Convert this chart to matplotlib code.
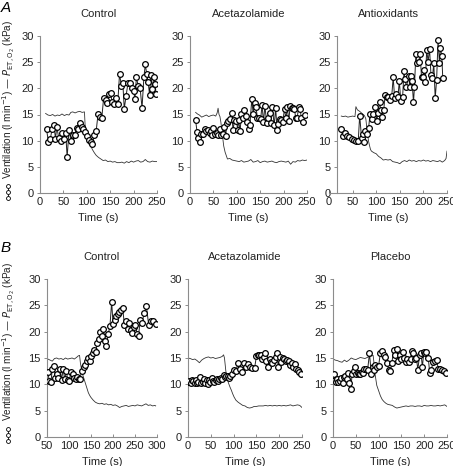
#Figura de ventilacion y PETO2 frente al tiempo, 6 paneles (A arriba, B abajo)
import numpy as np
import matplotlib
matplotlib.use('Agg')
import matplotlib.pyplot as plt
from matplotlib.lines import Line2D

plt.rcParams['font.family'] = ['Liberation Sans', 'DejaVu Sans']

#Panel A - Control
tA1 = [14,18,22,26,30,33,36,40,44,48,52,55,58,62,66,70,74,78,82,86,89,92,96,100,104,108,112,116,120,124,128,132,136,140,144,148,151,154,158,162,166,170,174,177,180,184,188,192,196,200,203,206,210,214,218,222,225,228,231,234,237,240,243,246,248]
vA1 = [12.2,9.7,10.3,12.3,12.9,10.4,12.6,10.5,10.0,11.5,10.4,11.4,6.8,12.1,10.0,11.0,11.1,12.5,12.3,13.3,12.6,12.2,11.7,10.8,10.2,9.7,9.3,11.1,11.8,15.1,14.6,14.3,18.2,17.8,17.2,18.9,19.2,17.4,17.0,18.1,17.0,22.8,20.4,21.0,16.1,18.6,21.0,21.0,20.0,19.5,17.9,22.2,20.4,20.0,16.2,22.1,24.6,22.7,21.3,18.8,22.6,19.9,22.1,20.8,19.0]
tA1p = [12,17,22,27,32,37,42,47,52,57,62,66,70,75,80,85,90,95,97,100,104,108,112,116,120,125,130,135,140,145,150,155,160,165,170,175,180,185,190,195,200,205,210,215,220,225,230,235,240,245,250]
pA1 = [15.2,14.9,14.8,15.0,14.7,14.9,14.8,15.1,14.8,15.0,14.9,15.4,15.5,15.3,15.5,15.6,15.4,15.5,11.8,10.9,10.0,9.1,8.3,7.7,7.2,6.8,6.5,6.2,6.3,6.0,6.1,5.9,6.0,5.8,5.8,5.9,5.7,6.0,5.8,6.1,5.9,6.1,6.2,5.9,6.0,6.4,6.0,5.9,6.1,6.0,6.0]

#Panel A - Acetazolamide
tA2 = [12,15,18,21,24,28,31,35,38,42,45,48,50,54,57,60,64,67,70,73,76,79,82,86,89,92,95,99,102,104,107,110,113,116,119,122,126,128,132,135,138,141,144,147,151,154,157,160,164,166,170,173,176,180,183,186,189,192,195,198,202,205,208,211,214,217,220,223,226,229,232,235,238,241,245]
vA2 = [13.9,11.7,10.5,9.8,11.3,11.2,12.2,11.8,12.1,11.4,11.9,11.0,12.5,11.3,11.4,11.1,12.2,11.1,11.2,12.6,10.9,13.3,13.7,14.2,15.2,12.0,13.9,13.8,12.1,14.0,11.8,15.1,14.4,15.9,14.7,13.5,12.3,13.0,17.9,15.1,17.2,16.4,14.4,14.4,14.1,16.9,13.5,16.6,13.4,14.4,15.2,13.4,16.4,12.9,16.3,12.1,13.2,14.1,14.0,13.6,16.0,14.3,16.4,13.7,16.7,16.3,16.3,16.1,14.3,14.3,16.4,16.1,14.4,13.6,14.9]
tA2p = [12,16,20,25,30,35,40,45,50,55,58,60,62,64,66,68,70,72,75,80,85,90,95,100,105,110,115,120,125,130,135,140,145,150,155,160,165,170,175,180,185,190,195,200,205,210,215,220,225,230,235,240,245,250]
pA2 = [15.4,15.1,14.9,14.5,14.7,14.9,14.6,14.8,14.9,14.7,15.3,16.2,15.0,14.6,13.5,12.0,10.5,9.0,7.8,6.5,6.6,6.3,6.2,6.1,6.0,6.2,5.9,6.0,6.1,6.4,5.9,6.0,6.2,5.8,6.0,6.1,5.9,6.0,6.1,5.9,5.8,6.0,6.1,6.0,5.9,6.1,5.5,6.0,5.9,6.2,6.1,6.3,6.2,6.3]

#Panel A - Antioxidants
tA3 = [26,29,34,39,43,48,52,57,62,65,69,71,74,76,80,84,87,91,94,98,101,104,107,110,113,116,119,123,126,130,133,136,139,143,146,149,152,156,159,161,164,169,171,174,176,179,181,184,187,190,193,196,199,201,204,207,210,213,216,219,222,225,228,231,234,236,239,241]
vA3 = [12.2,10.9,11.4,10.8,10.7,10.3,10.2,10.0,10.0,14.8,10.5,11.3,9.7,11.8,11.2,12.5,15.1,14.2,15.1,16.4,13.8,15.3,17.3,15.9,14.6,15.9,18.8,18.4,18.3,17.8,18.6,22.1,18.2,18.9,18.4,21.4,17.6,18.4,23.4,21.7,20.3,22.4,20.2,22.4,21.4,17.3,20.2,26.5,24.8,25.1,26.5,22.2,22.2,23.5,21.3,27.3,25.1,27.6,22.6,21.9,24.8,18.1,21.6,29.2,24.8,27.8,26.2,22.0]
tA3p = [26,30,35,40,45,50,55,57,60,65,70,75,78,80,82,84,86,88,90,95,100,105,110,115,120,125,130,135,140,145,150,155,160,165,170,175,180,185,190,195,200,205,210,215,220,225,230,235,240,245,248,250]
pA3 = [14.7,14.6,14.7,14.5,14.6,14.7,14.6,16.5,15.9,15.6,15.2,14.8,14.2,12.5,11.0,9.8,9.0,8.3,8.0,7.7,7.5,7.0,6.7,6.3,6.4,6.3,6.4,6.0,5.9,5.8,5.6,6.0,6.2,6.0,6.3,6.1,6.2,6.0,6.2,6.1,6.3,6.1,6.2,6.0,6.2,6.1,6.0,6.2,5.9,6.2,6.6,8.0]

#Panel B - Control
tB1 = [52,55,59,62,66,69,73,76,80,83,87,90,94,97,101,104,108,111,115,118,122,125,129,133,136,140,143,147,150,154,157,161,164,168,171,175,178,182,185,189,193,197,200,204,207,211,214,218,222,226,229,233,236,240,244,247,251,255,258,262,266,271,276,281,286,292,297]
vB1 = [12.3,10.7,10.5,12.9,13.5,11.2,12.0,11.2,13.0,10.9,12.9,11.0,12.5,10.8,10.6,12.3,12.0,11.2,11.0,11.3,11.0,11.1,12.6,13.3,13.6,14.4,15.0,14.5,15.4,16.0,16.5,16.2,17.8,18.6,20.0,19.1,20.6,18.3,17.3,19.5,21.0,25.7,21.5,22.3,23.0,23.3,23.8,24.2,24.4,21.3,22.0,20.5,21.7,20.3,19.8,20.8,21.3,19.5,19.2,22.3,21.7,23.5,24.8,21.3,22.0,22.0,21.5]
tB1p = [52,57,62,67,72,77,82,87,92,97,102,107,112,117,121,124,126,129,132,135,138,141,144,147,150,155,160,165,170,175,180,185,190,195,200,205,210,215,220,225,230,235,240,245,250,255,260,265,270,275,280,285,290,295,297]
pB1 = [14.8,14.6,14.4,14.9,15.0,14.8,14.9,14.7,15.0,14.8,14.9,15.0,14.8,15.1,15.4,15.5,14.0,12.6,11.6,10.8,10.0,9.2,8.4,7.9,7.5,7.0,6.6,6.4,6.3,6.4,6.2,6.3,6.1,6.2,6.0,6.1,5.9,5.6,5.8,5.9,6.0,5.8,5.9,6.0,5.9,6.1,6.0,5.9,6.1,6.3,6.0,6.1,5.9,6.0,5.9]

#Panel B - Acetazolamide
tB2 = [0,3,6,9,12,15,18,20,23,26,29,32,35,38,41,43,46,49,52,55,58,61,64,66,69,72,75,78,81,84,87,89,92,96,101,105,110,114,119,123,128,132,137,141,146,150,153,156,160,163,166,169,172,176,179,182,185,189,192,195,198,202,205,208,211,215,218,221,224,228,231,234,237,241,244,248]
vB2 = [10.5,10.7,10.3,10.9,10.6,10.2,10.9,10.2,10.5,11.3,10.3,10.5,11.1,10.2,10.9,10.1,10.8,10.4,11.2,10.6,10.5,10.9,11.0,10.6,11.0,11.2,11.1,11.8,11.3,11.6,11.6,11.2,11.5,12.0,12.8,12.6,14.0,13.0,12.4,14.0,13.2,13.8,13.3,13.1,13.1,15.3,15.6,15.6,15.5,14.8,15.2,15.9,14.4,13.2,14.8,14.2,14.0,14.6,15.1,15.9,13.2,15.1,14.3,15.0,14.8,14.4,14.6,14.4,13.7,14.1,13.2,13.8,12.9,12.7,12.3,11.9]
tB2p = [0,5,10,15,20,25,30,35,40,45,50,55,60,65,70,75,78,80,83,86,89,92,95,98,101,105,110,115,120,125,130,135,140,145,150,155,160,165,170,175,180,185,190,195,200,205,210,215,220,225,230,235,240,245,250]
pB2 = [15.0,14.9,14.7,14.8,14.5,14.1,14.6,14.9,15.1,15.2,15.0,15.1,14.9,15.0,15.1,15.3,15.6,15.0,12.5,11.0,10.2,9.5,8.9,8.2,7.6,7.0,6.6,6.3,6.0,5.9,5.6,5.5,5.6,5.8,5.8,5.9,5.9,5.9,6.0,5.9,6.0,5.9,6.0,5.9,6.0,5.9,6.0,5.9,6.0,6.1,5.9,6.0,6.1,6.0,5.6]

#Panel B - Placebo
tB3 = [0,3,6,9,12,15,18,21,24,27,30,33,36,39,42,45,48,51,54,57,60,63,66,69,73,76,80,84,87,90,93,97,100,104,108,112,115,119,122,126,129,133,136,140,143,146,150,153,156,160,163,166,170,173,176,180,183,186,190,193,196,199,202,205,209,212,216,219,223,227,231,235,239,243,247]
vB3 = [11.8,12.0,10.5,11.0,10.5,10.6,11.2,10.3,11.3,11.6,11.0,12.1,10.2,9.2,11.9,12.5,13.3,12.0,12.2,12.0,12.0,12.3,12.1,12.9,13.0,12.8,15.9,11.9,13.2,12.7,13.6,13.2,13.5,16.0,16.3,15.5,15.1,14.0,12.8,12.6,14.0,16.6,15.6,16.7,14.5,15.5,14.8,16.2,15.0,14.3,14.9,14.2,14.9,16.4,15.9,14.8,15.0,12.8,15.6,16.0,13.2,16.1,15.9,16.1,15.0,12.2,12.8,14.2,14.4,14.6,13.0,12.9,12.8,12.5,12.2]
tB3p = [0,5,10,15,20,25,30,35,40,45,50,55,60,65,70,75,80,85,88,90,93,96,100,104,108,112,116,120,125,130,135,140,145,150,155,160,165,170,175,180,185,190,195,200,205,210,215,220,225,230,235,240,245,250]
pB3 = [14.8,14.6,14.5,14.3,14.2,14.6,14.3,14.6,15.0,14.8,14.7,14.9,15.1,15.0,14.9,15.1,15.3,15.4,15.5,14.0,11.5,9.8,8.8,7.8,7.1,6.7,6.4,6.2,6.1,6.0,5.7,5.5,5.6,5.7,5.8,5.9,5.8,5.9,5.9,5.8,5.9,5.9,5.8,6.0,5.9,5.9,6.0,5.9,5.9,6.0,5.9,6.0,6.1,5.8]

titulos = ['Control', 'Acetazolamide', 'Antioxidants', 'Control', 'Acetazolamide', 'Placebo']

paneles = [(tA1, vA1, tA1p, pA1), (tA2, vA2, tA2p, pA2), (tA3, vA3, tA3p, pA3),
           (tB1, vB1, tB1p, pB1), (tB2, vB2, tB2p, pB2), (tB3, vB3, tB3p, pB3)]

#posiciones de los ejes en pixeles (izq, der, arriba, abajo) de la imagen 453x466
W, H = 453., 466.
cajas = [(40, 157, 36, 193), (190, 307, 36, 193), (329, 447, 36, 193),
         (47, 157, 279, 437), (188, 302, 279, 437), (333, 447, 279, 437)]

gris = '#8c8c8c'

fig = plt.figure(figsize=(4.53, 4.66), dpi=100)

for i in range(6):
    x0, x1, y0, y1 = cajas[i]
    ax = fig.add_axes([x0/W, 1 - y1/H, (x1 - x0)/W, (y1 - y0)/H])
    t, v, tp, p = paneles[i]

    #traza de PETO2 (linea fina) y ventilacion (circulos)
    ax.plot(tp, p, '-', color='#333333', lw=0.6, zorder=2)
    ax.plot(t, v, '-', color='#222222', lw=0.7, zorder=3)
    ax.plot(t, v, 'o', ms=4.1, mfc='white', mec='black', mew=0.9, zorder=4)

    if i == 3:
        ax.set_xlim(50, 300)
        ax.set_xticks([50, 100, 150, 200, 250, 300])
    else:
        ax.set_xlim(0, 250)
        ax.set_xticks([0, 50, 100, 150, 200, 250])
    ax.set_ylim(0, 30)
    ax.set_yticks([0, 5, 10, 15, 20, 25, 30])

    if i == 2:
        ax.spines['left'].set_position(('data', 17))

    for s in ['top', 'right']:
        ax.spines[s].set_visible(False)
    for s in ['left', 'bottom']:
        ax.spines[s].set_color(gris)
        ax.spines[s].set_linewidth(0.8)
    ax.tick_params(axis='y', direction='out', length=2.5, width=0.7, color=gris,
                   labelsize=8, pad=2, labelcolor='#222222')
    ax.tick_params(axis='x', direction='in', length=2.5, width=0.7, color=gris,
                   labelsize=8, pad=3, labelcolor='#222222')

    ax.set_xlabel('Time (s)', fontsize=8, labelpad=4, color='#222222')
    ax.set_title(titulos[i], fontsize=8, pad=14, color='#222222')

#letras de panel y etiqueta del eje y
etiqueta = r'Ventilation (l min$^{-1}$) — $P_{\mathrm{ET,O_2}}$ (kPa)'
for letra, ytop, ycen, ysim in [('A', 1, 99, 192), ('B', 241, 341, 435)]:
    fig.text(1/W, 1 - ytop/H, letra, fontsize=11, style='italic', va='top', ha='left')
    fig.text(9/W, 1 - ycen/H, etiqueta, rotation=90, fontsize=7.2, va='center',
             ha='center', color='#222222')
    #simbolo de circulos unidos
    ys = [1 - (ysim - 6)/H, 1 - ysim/H, 1 - (ysim + 6)/H]
    fig.add_artist(Line2D([8/W]*3, ys, transform=fig.transFigure, color='black',
                          lw=0.6, marker='o', ms=2.8, mfc='white', mec='black', mew=0.6))

plt.savefig('out.png', dpi=100)
